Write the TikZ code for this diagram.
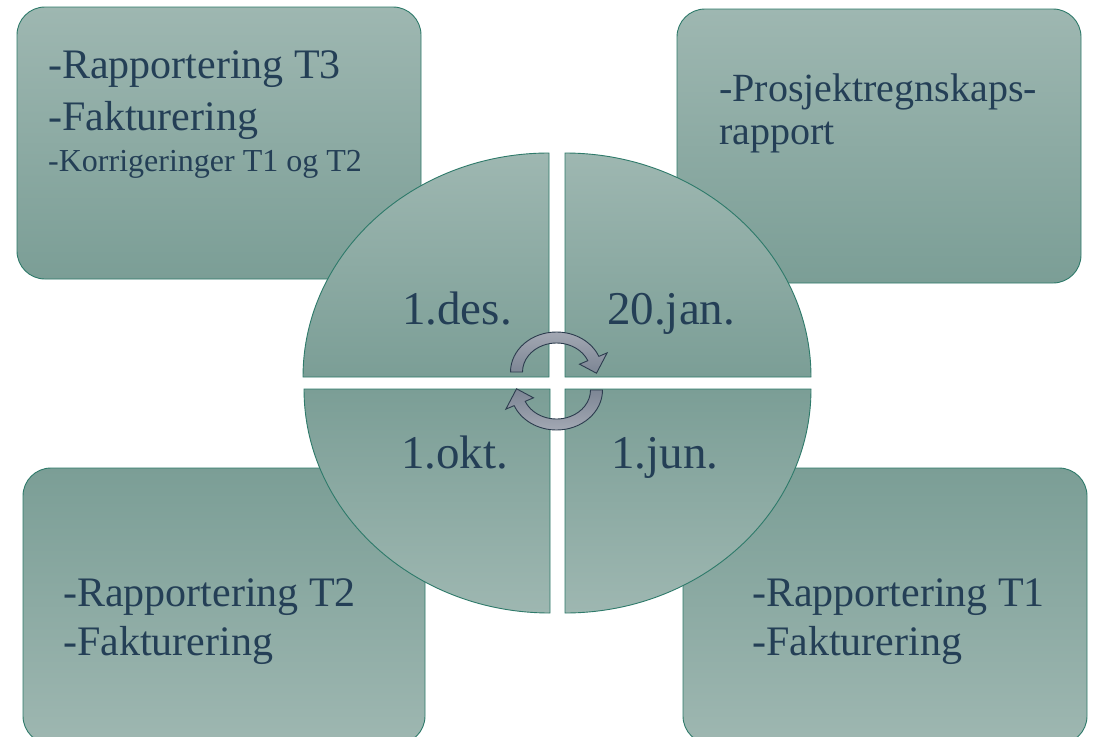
\documentclass[tikz,border=0pt]{standalone}
\usepackage{fontspec}
\setmainfont{Liberation Serif}
\usetikzlibrary{calc}
\definecolor{boxlight}{RGB}{158,183,177}
\definecolor{boxdark}{RGB}{123,158,150}
\definecolor{edgeteal}{RGB}{46,122,106}
\definecolor{txt}{RGB}{36,63,86}
\definecolor{arrlight}{RGB}{163,168,179}
\definecolor{arrdark}{RGB}{124,133,148}
\definecolor{arredge}{RGB}{44,60,78}
\newcommand{\halfcycle}[1]{%
  \begin{scope}[shift={(0,-9)}]
    \path[#1] (180:46 and 40)
      arc[start angle=180,end angle=337,x radius=46,y radius=40]
      -- (337:55 and 49) -- (2:40 and 35) -- (337:25 and 20)
      -- (337:34 and 29)
      arc[start angle=337,end angle=180,x radius=34,y radius=29] -- cycle;
  \end{scope}}
\begin{document}
\begin{tikzpicture}[x=1pt,y=-1pt,
  boxdown/.style={draw=edgeteal,line width=0.9pt,rounded corners=28pt,top color=boxlight,bottom color=boxdark},
  boxup/.style={draw=edgeteal,line width=0.9pt,rounded corners=28pt,top color=boxdark,bottom color=boxlight},
  quaddown/.style={draw=edgeteal,line width=0.9pt,top color=boxlight,bottom color=boxdark},
  quadup/.style={draw=edgeteal,line width=0.9pt,top color=boxdark,bottom color=boxlight},
  arrowA/.style={draw=arredge,line width=0.9pt,top color=arrlight,bottom color=arrdark},
  arrowB/.style={draw=arredge,line width=0.9pt,top color=arrdark,bottom color=arrlight},
  big/.style={anchor=base west,inner sep=0pt,text=txt,font=\fontsize{42}{50}\selectfont},
  mid/.style={anchor=base west,inner sep=0pt,text=txt,font=\fontsize{40}{48}\selectfont},
  small/.style={anchor=base west,inner sep=0pt,text=txt,font=\fontsize{32}{38}\selectfont},
  date/.style={anchor=base west,inner sep=0pt,text=txt,font=\fontsize{47}{56}\selectfont}]
\useasboundingbox (0,0) rectangle (1094,736);
\clip (0,0) rectangle (1094,736);
\fill[white] (0,0) rectangle (1094,736);
% corner boxes
\path[boxdown] (17,7) rectangle (421,279);
\path[boxdown] (677,9) rectangle (1081,283);
\path[boxup] (23,468) rectangle (425,744);
\path[boxup] (683,468) rectangle (1087,744);
% quadrants
\path[quaddown] (549,377) -- (303,377)
  arc[start angle=180,end angle=270,x radius=246,y radius=224] -- cycle;
\path[quaddown] (565,377) -- (565,153)
  arc[start angle=270,end angle=360,x radius=246,y radius=224] -- cycle;
\path[quadup] (550,389) -- (304,389)
  arc[start angle=180,end angle=90,x radius=246,y radius=224] -- cycle;
\path[quadup] (565,389) -- (811,389)
  arc[start angle=0,end angle=90,x radius=246,y radius=224] -- cycle;
% cycle arrows
\begin{scope}[shift={(556.5,381)}]
  \halfcycle{arrowA}
\end{scope}
\begin{scope}[shift={(556.5,381)},rotate=180]
  \halfcycle{arrowB}
\end{scope}
% box texts
\node[big] (tl1) at (48,78) {-Rapportering T3};
\node[big] (tl2) at (48,130) {-Fakturering};
\node[small] (tl3) at (48,171) {-Korrigeringer T1 og T2};
\node[mid] (tr1) at (719,101) {-Prosjektregnskaps-};
\node[mid] (tr2) at (719,144) {rapport};
\node[big] (bl1) at (63,606) {-Rapportering T2};
\node[big] (bl2) at (63,655) {-Fakturering};
\node[big] (br1) at (752,606) {-Rapportering T1};
\node[big] (br2) at (752,655) {-Fakturering};
% quadrant labels
\node[date] (q1) at (402,324) {1.des.};
\node[date] (q2) at (607,324) {20.jan.};
\node[date] (q3) at (401,468) {1.okt.};
\node[date] (q4) at (611,468) {1.jun.};
\end{tikzpicture}
\end{document}
